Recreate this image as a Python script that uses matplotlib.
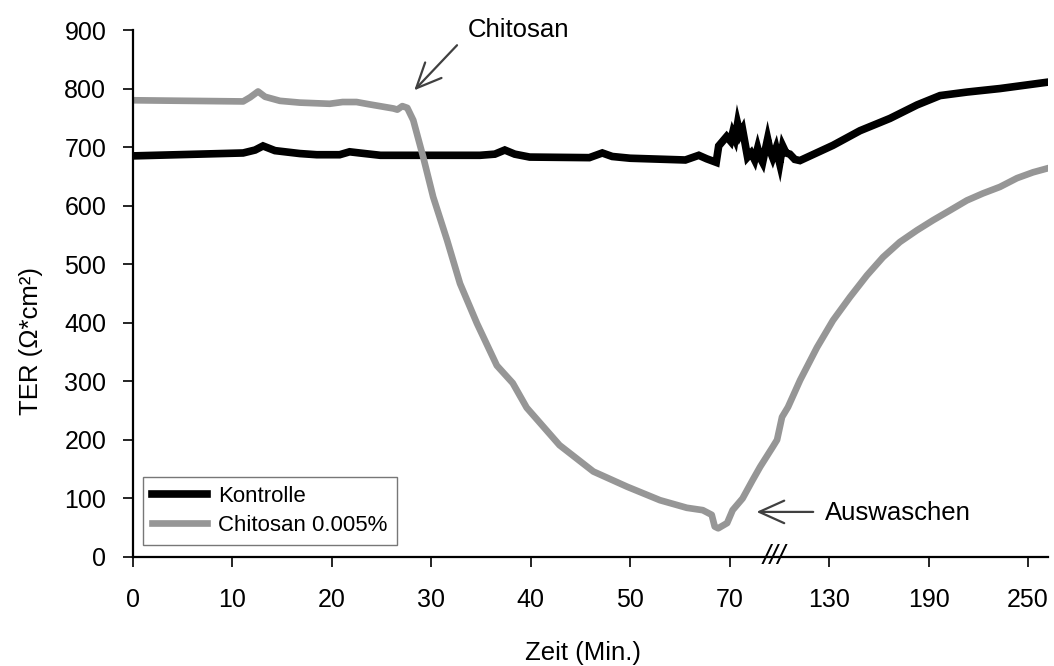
import numpy as np
import matplotlib
matplotlib.use('Agg')
import matplotlib.pyplot as plt

plt.rcParams['font.family'] = ['Liberation Sans', 'DejaVu Sans']

# time axis is broken after 70 min, ticks are evenly spaced
tick_minutes = [0, 10, 20, 30, 40, 50, 70, 130, 190, 250]
tick_labels = [str(t) for t in tick_minutes]

kontrolle_t = [0, 11.1, 12.3, 13.1, 14.3, 16.8, 18.5, 20.8, 21.8, 22.8, 24.9, 34.9, 36.4,
               37.4, 38.4, 39.9, 45.9, 47.2, 48.2, 50.0, 61.1, 63.8, 65.4, 67.3, 67.8,
               69.4, 70.6, 71.8, 73.3, 74.8, 76.3, 77.8, 80.8, 83.0, 85.1, 86.9, 88.4,
               89.9, 92.9, 94.5, 96.0, 98.0, 100.2, 102.0, 104.0, 106.3, 109.3, 112.4,
               132.3, 148.6, 166.7, 183.0, 196.9, 213.1, 233.0, 262.0]
kontrolle_ter = [685, 690, 695, 702, 694, 689, 687, 687, 692, 690, 686, 686, 688,
                 695, 688, 683, 682, 690, 684, 681, 678, 686, 680, 674, 702,
                 718, 710, 724, 714, 740, 722, 730, 683, 690, 678, 698, 682,
                 674, 714, 693, 682, 698, 672, 702, 690, 688, 679, 677,
                 703, 728, 749, 772, 788, 794, 800, 811]

chitosan_t = [0, 11.1, 11.8, 12.6, 13.3, 14.8, 16.8, 19.8, 21.1, 22.5, 23.8, 26.2, 26.6,
              27.1, 27.6, 28.2, 29.2, 30.2, 31.6, 32.9, 34.6, 36.6, 38.2, 39.6, 42.9,
              46.3, 49.7, 56.0, 61.4, 64.6, 66.4, 67.0, 67.7, 69.5, 71.8, 77.8, 83.8,
              88.4, 92.2, 96.0, 98.6, 101.6, 105.2, 112.5, 122.7, 132.3, 142.6, 152.8,
              162.5, 172.7, 183.0, 192.6, 202.9, 213.1, 222.8, 233.0, 243.3, 253.0, 262.0]
chitosan_ter = [780, 778, 785, 795, 786, 779, 776, 774, 777, 777, 773, 766, 764,
                770, 767, 746, 683, 615, 541, 467, 399, 327, 297, 255, 191,
                146, 120, 97, 84, 80, 72, 52, 49, 58, 80, 100, 131,
                154, 171, 188, 200, 239, 256, 302, 358, 404, 444, 481,
                512, 538, 558, 575, 592, 609, 621, 632, 647, 657, 664]


def to_axis(t):
    t = np.asarray(t, dtype=float)
    pos = np.interp(t, tick_minutes, np.arange(len(tick_minutes)))
    last = len(tick_minutes) - 1
    return np.where(t > tick_minutes[-1], last + (t - tick_minutes[-1]) / 60.0, pos)


fig = plt.figure(figsize=(10.54, 6.66), dpi=100)
ax = fig.add_axes([132.7 / 1054, 109 / 666, 915.3 / 1054, 527 / 666])

ax.plot(to_axis(kontrolle_t), kontrolle_ter, color='black', lw=5.5,
        solid_joinstyle='miter', label='Kontrolle')
ax.plot(to_axis(chitosan_t), chitosan_ter, color='#969696', lw=4.8,
        solid_joinstyle='round', label='Chitosan 0.005%')

ax.set_xlim(0, 9.2)
ax.set_ylim(0, 900)
ax.set_xticks(np.arange(len(tick_minutes)))
ax.set_xticklabels(tick_labels)
ax.set_yticks(np.arange(0, 901, 100))

for s in ['top', 'right']:
    ax.spines[s].set_visible(False)
for s in ['left', 'bottom']:
    ax.spines[s].set_linewidth(1.6)
ax.tick_params(direction='out', length=7, width=1.2, labelsize=18, pad=12)
ax.tick_params(axis='x', pad=15)

ax.set_xlabel('Zeit (Min.)', fontsize=18.5)
ax.set_ylabel('TER (Ω*cm²)', fontsize=18.5)
ax.xaxis.set_label_coords(0.492, -0.182)
ax.xaxis.label.set_va('center')
ax.yaxis.set_label_coords(-0.111, 0.41)
ax.yaxis.label.set_va('center')

# axis break marker
ax.text(6.45, 0, '///', fontsize=20, ha='center', va='center', clip_on=False,
        fontstyle='italic')

arrow = dict(arrowstyle='->, head_length=1.0, head_width=0.45', color='#404040',
             lw=1.6, mutation_scale=18, shrinkA=0, shrinkB=0)
ax.annotate('', xy=(2.83, 797), xytext=(3.26, 874), arrowprops=arrow)
ax.text(3.37, 900, 'Chitosan', fontsize=18.5, ha='left', va='center', clip_on=False)
ax.annotate('', xy=(6.27, 77), xytext=(6.84, 77), arrowprops=arrow)
ax.text(6.96, 75, 'Auswaschen', fontsize=18.5, ha='left', va='center')

leg = ax.legend(loc='lower left', bbox_to_anchor=(0.011, 0.023), fontsize=16,
                frameon=True, fancybox=False, edgecolor='#555555',
                handlelength=2.5, handletextpad=0.5, labelspacing=0.35,
                borderpad=0.4, borderaxespad=0)
leg.get_frame().set_linewidth(1.0)

fig.savefig('out.png', dpi=100)
